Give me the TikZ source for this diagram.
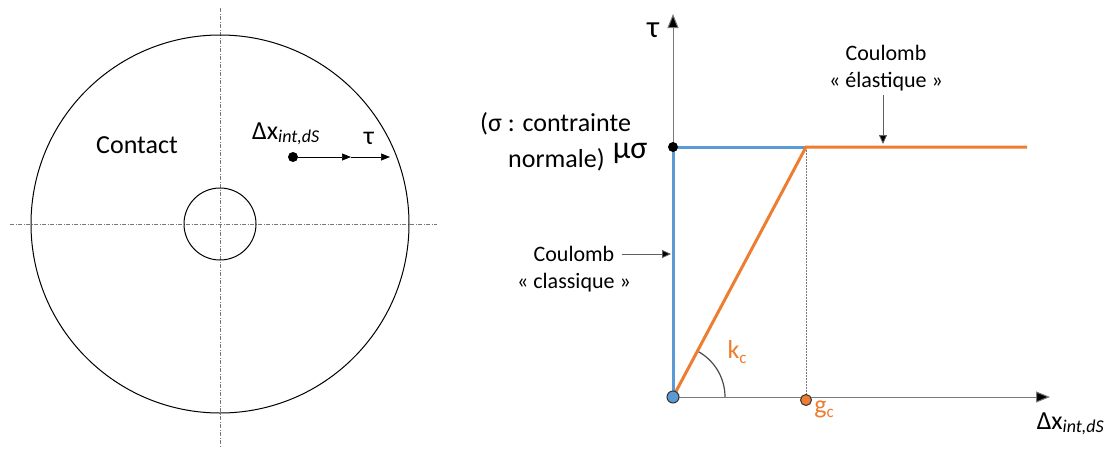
\documentclass[tikz,border=0pt]{standalone}
\usepackage{fontspec}
\setmainfont{Carlito}
\usetikzlibrary{arrows.meta}
\definecolor{cblue}{RGB}{91,155,213}
\definecolor{corange}{RGB}{237,125,49}
\definecolor{axgray}{RGB}{120,120,120}
\newcommand{\dxids}{Δx\raisebox{-0.3ex}{\fontsize{18}{21}\selectfont\itshape int,dS}}
\tikzset{
  big/.style={font=\fontsize{26}{31}\selectfont, inner sep=0pt},
  small/.style={font=\fontsize{22}{27}\selectfont, inner sep=0pt, align=center},
  centerline/.style={draw=axgray, line width=0.6pt, dash pattern=on 4pt off 1.5pt on 1pt off 1.5pt},
  thinarrow/.style={draw=black, line width=0.7pt, -{Triangle[length=9pt,width=7pt]}},
  axis/.style={draw=axgray, line width=1pt, -{Triangle[length=14pt,width=11pt,fill=black]}},
  leader/.style={draw=axgray!80!black, line width=0.8pt, -{Triangle[length=9pt,width=8pt,fill=black]}},
  bluepath/.style={draw=cblue, line width=3pt},
  orangepath/.style={draw=corange, line width=3pt},
}
\begin{document}
\begin{tikzpicture}[x=1pt,y=-1pt]
\useasboundingbox (0,0) rectangle (1106,453);
% ---------- left: contact disk ----------
\coordinate (c) at (220,224);
\draw[centerline] (10,224) -- (437,224);
\draw[centerline] (220,8) -- (220,448);
\draw[line width=1pt] (c) circle (189);
\draw[line width=1pt] (c) circle (36);
\node[big] (contact) at (137,145) {Contact};
\node[circle, fill=black, minimum size=10pt, inner sep=0pt] (pt) at (293,157) {};
\coordinate (a1) at (351,157);
\coordinate (a2) at (390,157);
\draw[thinarrow] (pt) -- (a1);
\draw[thinarrow] (a1) -- (a2);
\node[big, anchor=base west] (dxl) at (252,139) {\dxids};
\node[big] (taul) at (369,138) {τ};
% ---------- right: graph ----------
\coordinate (O) at (673,397);
\coordinate (yt) at (673,14);
\coordinate (xt) at (1050,397);
\coordinate (M) at (673,147);
\coordinate (G) at (806,147);
\coordinate (Gx) at (806,397);
\coordinate (E) at (1027,147);
\draw[axis] (O) -- (yt);
\draw[axis] (O) -- (xt);
\draw[draw=axgray, line width=0.8pt, dash pattern=on 1.5pt off 1.5pt] (G) -- (Gx);
\draw[draw=black!70, line width=1.2pt] ([shift={(0:52)}]O) arc[start angle=0, end angle=-62, radius=52];
\draw[bluepath] (O) -- (M) -- (G);
\draw[orangepath] (O) -- (G) -- (E);
\node[circle, fill=cblue, draw=black!80, line width=1pt, minimum size=12pt, inner sep=0pt] (od) at (O) {};
\node[circle, fill=black, minimum size=10pt, inner sep=0pt] (md) at (M) {};
\node[circle, fill=corange, draw=black!80, line width=1pt, minimum size=11pt, inner sep=0pt] (gd) at (806,400) {};
% labels
\node[font=\fontsize{31}{37}\selectfont, inner sep=0pt] (taua) at (653,30) {τ};
\node[font=\fontsize{32}{38}\selectfont, inner sep=0pt] (musig) at (630,153) {μσ};
\node[big, anchor=west] (sig1) at (480,124) {(σ : contrainte};
\node[big, anchor=west] (sig2) at (508,160) {normale)};
\node[small] (ccl) at (574,269) {Coulomb\\« classique »};
\coordinate (cclt) at (671,254);
\draw[leader] (622,254) -- (cclt);
\node[small] (cel) at (886,68) {Coulomb\\« élastique »};
\coordinate (celt) at (883,144);
\draw[leader] (883,95) -- (celt);
\node[font=\fontsize{26}{31}\selectfont, text=corange, inner sep=0pt] (kc) at (737,352) {k\raisebox{-0.35ex}{\fontsize{17}{20}\selectfont c}};
\node[font=\fontsize{26}{31}\selectfont, text=corange, inner sep=0pt] (gc) at (824,409) {g\raisebox{-0.35ex}{\fontsize{17}{20}\selectfont c}};
\node[big, anchor=base east] (dxa) at (1104,429) {\dxids};
\end{tikzpicture}
\end{document}
